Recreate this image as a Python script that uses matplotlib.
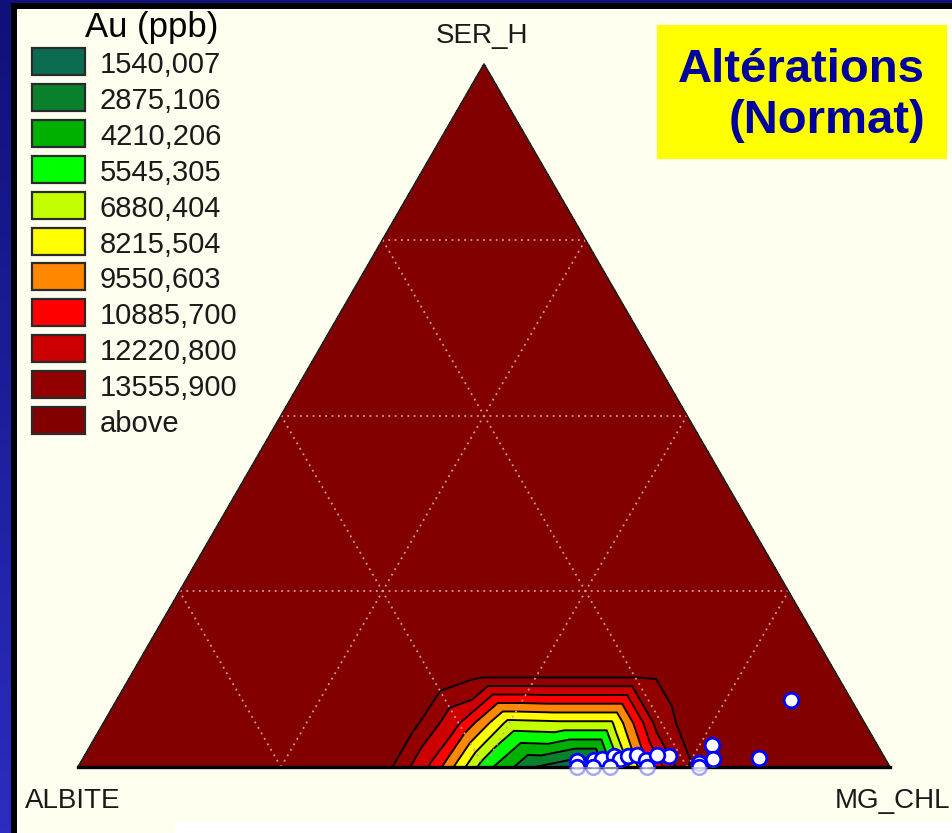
import numpy as np
import matplotlib
matplotlib.use("Agg")
import matplotlib.pyplot as plt
import matplotlib.tri as mtri
from matplotlib.patches import Rectangle, Polygon

plt.rcParams['font.family'] = ['Liberation Sans', 'DejaVu Sans']

# Au (ppb) class limits and their colours (last colour = "above")
au_levels = [1540.007, 2875.106, 4210.206, 5545.305, 6880.404,
             8215.504, 9550.603, 10885.700, 12220.800, 13555.900]
au_labels = ['1540,007', '2875,106', '4210,206', '5545,305', '6880,404',
             '8215,504', '9550,603', '10885,700', '12220,800', '13555,900', 'above']
au_colors = ['#0b6b50', '#0b802c', '#00b000', '#00ff00', '#c4ff00',
             '#ffff00', '#ff8800', '#ff0000', '#cc0000', '#930000', '#820000']

# gridded Au on the ternary lattice (1/16 step), rows by SER_H = 0, 1/16, 2/16
# columns indexed by MG_CHL; every other node holds the background value
n_step = 16
bg_au = 20000
au_row0 = [bg_au, bg_au, bg_au, bg_au, bg_au, bg_au, 14300, 10500, 4800,
           1540, 200, 8000, 13450, 17000, bg_au, bg_au, bg_au]
au_row1 = [bg_au, bg_au, bg_au, bg_au, bg_au, bg_au, 14300, 11000, 6400,
           6600, 6600, 13300, 14200, bg_au, bg_au, bg_au]
au_row2 = [bg_au, bg_au, bg_au, bg_au, bg_au, bg_au, 14500, 13300, 13300,
           13300, 13300, 13950, bg_au, bg_au, bg_au]

# samples (percent SER_H, percent MG_CHL; ALBITE is the rest)
ser_h = [9.6, 3.2, 1.1, 1.3, 0.6, 1.6, 0.8, 1.0, 1.2, 1.5, 1.2, 1.5, 1.7,
         1.0, 1.7, 0.0, 0.0, 0.0, 0.0, 0.0]
mg_chl = [83.0, 76.5, 77.6, 83.2, 76.2, 72.0, 61.0, 63.0, 63.9, 65.2, 66.1,
          67.0, 68.0, 69.5, 70.4, 61.4, 63.4, 65.5, 70.1, 76.5]

H = np.sqrt(3) / 2


def tern_xy(s, m):
    s = np.asarray(s, float)
    m = np.asarray(m, float)
    return m + s / 2, s * H


W, Hpx = 953, 833
fig = plt.figure(figsize=(W / 100, Hpx / 100), dpi=100)
fig.patch.set_facecolor('#fffff0')

# frame / decorations in pixel units
deco = fig.add_axes([0, 0, 1, 1])
deco.set_xlim(0, W)
deco.set_ylim(Hpx, 0)
deco.axis('off')
grad = np.linspace(0, 1, 200).reshape(-1, 1)
cmap_frame = matplotlib.colors.LinearSegmentedColormap.from_list('fr', ['#10107a', '#2c2cc0'])
deco.imshow(grad, cmap=cmap_frame, extent=[0, 11, Hpx, 0], aspect='auto')
deco.add_patch(Rectangle((0, 0), W, 3, color='#10107a', lw=0))
deco.add_patch(Rectangle((11, 3), W, 6, color='black', lw=0))
deco.add_patch(Rectangle((11, 3), 6, Hpx, color='black', lw=0))
deco.add_patch(Rectangle((175, 822), W, 20, color='white', lw=0))

# legend
deco.text(85, 37, 'Au (ppb)', fontsize=25, color='black')
for i, (lab, col) in enumerate(zip(au_labels, au_colors)):
    y0 = 48 + 35.9 * i
    deco.add_patch(Rectangle((32, y0), 53, 27, facecolor=col,
                             edgecolor='#2a2a2a', lw=1.6))
    deco.text(100, y0 + 25, lab, fontsize=21, color='#1a1a1a')

# title box
deco.add_patch(Rectangle((657, 25), 290, 134, color='#ffff00', lw=0))
deco.text(925, 82, 'Altérations', fontsize=34, fontweight='bold',
          color='#00009c', ha='right')
deco.text(925, 133, '(Normat)', fontsize=34, fontweight='bold',
          color='#00009c', ha='right')

# corner labels
deco.text(482, 43, 'SER_H', fontsize=20, color='#1a1a1a', ha='center')
deco.text(25, 808, 'ALBITE', fontsize=20, color='#1a1a1a')
deco.text(950, 808, 'MG_CHL', fontsize=20, color='#1a1a1a', ha='right')

# ternary plot
ax = fig.add_axes([78 / W, 66 / Hpx, 812 / W, 703 / Hpx])
ax.set_xlim(0, 1)
ax.set_ylim(0, H)
ax.axis('off')

rows = {0: au_row0, 1: au_row1, 2: au_row2}
node_s, node_m, node_v, idx = [], [], [], {}
for i in range(n_step + 1):
    for j in range(n_step + 1 - i):
        idx[(i, j)] = len(node_s)
        node_s.append(i / n_step)
        node_m.append(j / n_step)
        node_v.append(rows[i][j] if i in rows else bg_au)
tris = []
for i in range(n_step):
    for j in range(n_step - i):
        tris.append([idx[(i, j)], idx[(i, j + 1)], idx[(i + 1, j)]])
        if j < n_step - i - 1:
            tris.append([idx[(i, j + 1)], idx[(i + 1, j + 1)], idx[(i + 1, j)]])
nx, ny = tern_xy(node_s, node_m)
triang = mtri.Triangulation(nx, ny, np.array(tris))

bounds = [0] + au_levels + [bg_au + 1]
ax.tricontourf(triang, node_v, levels=bounds, colors=au_colors)
ax.tricontour(triang, node_v, levels=au_levels, colors='#0a0000', linewidths=1.4)

# quarter grid
for f in (0.25, 0.5, 0.75):
    for (s0, m0), (s1, m1) in [((f, 0), (f, 1 - f)),
                               ((0, f), (1 - f, f)),
                               ((0, 1 - f), (1 - f, 0))]:
        gx, gy = tern_xy([s0, s1], [m0, m1])
        ax.plot(gx, gy, color='#d49a9a', lw=1.3, ls=(0, (1, 2.5)))

# triangle outline
tx, ty = tern_xy([0, 1, 0], [0, 0, 1])
ax.plot([tx[0], tx[1], tx[2]], [ty[0], ty[1], ty[2]], color='#202020', lw=1.2,
        clip_on=False)
ax.plot([tx[0], tx[2]], [ty[0], ty[2]], color='black', lw=2.4, clip_on=False)

# samples: faded outside the triangle, solid inside
px, py = tern_xy(np.array(ser_h) / 100, np.array(mg_chl) / 100)
ax.plot(px, py, 'o', ms=10.5, mfc='white', mec='#6060ff', mew=1.8, alpha=0.55,
        clip_on=False, zorder=5)
clip_tri = Polygon(np.column_stack([tx, ty]), closed=True, transform=ax.transData)
pts, = ax.plot(px, py, 'o', ms=10.5, mfc='white', mec='#0000ff', mew=2.0, zorder=6)
pts.set_clip_path(clip_tri)

fig.savefig('out.png', dpi=100, facecolor=fig.get_facecolor())
